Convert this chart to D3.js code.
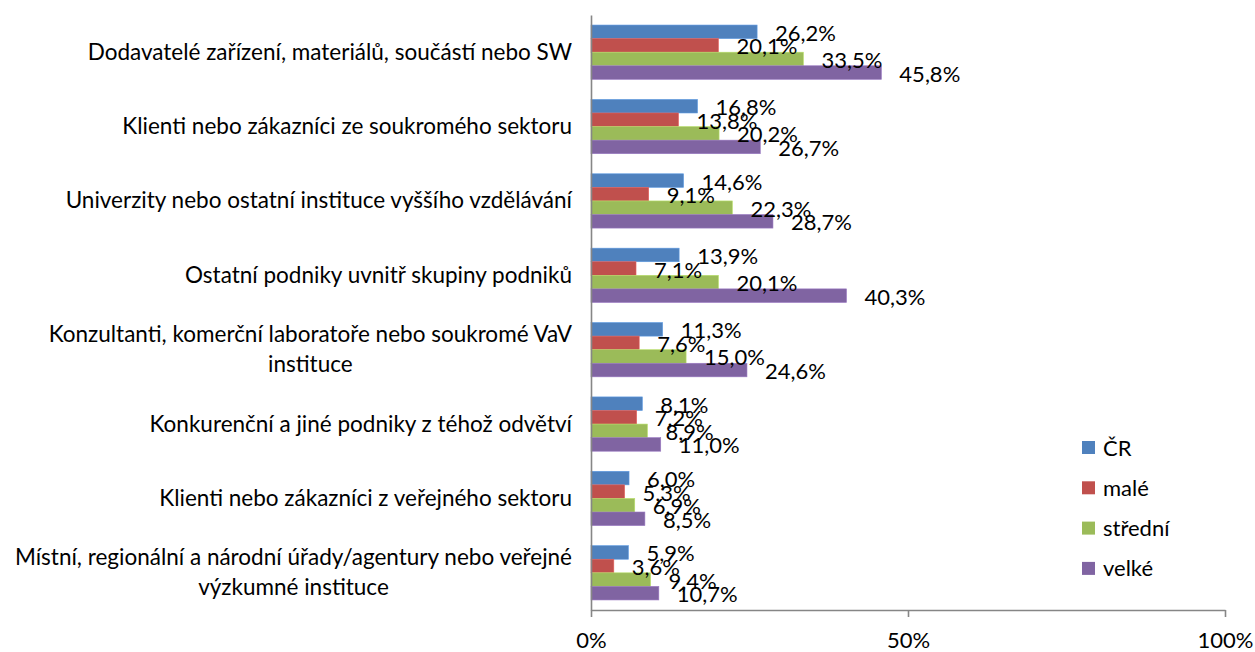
<!DOCTYPE html>
<html>
<head>
<meta charset="utf-8">
<script src="https://cdn.jsdelivr.net/npm/d3@7"></script>
<style>
  body { margin: 0; background: #fff; }
  svg { display: block; }
</style>
</head>
<body>
<svg id="chart"></svg>
<script>
const categories = [
  'Dodavatelé zařízení, materiálů, součástí nebo SW',
  'Klienti nebo zákazníci ze soukromého sektoru',
  'Univerzity nebo ostatní instituce vyššího vzdělávání',
  'Ostatní podniky uvnitř skupiny podniků',
  'Konzultanti, komerční laboratoře nebo soukromé VaV\ninstituce',
  'Konkurenční a jiné podniky z téhož odvětví',
  'Klienti nebo zákazníci z veřejného sektoru',
  'Místní, regionální a národní úřady/agentury nebo veřejné\nvýzkumné instituce'
];
const seriesNames = ['ČR', 'malé', 'střední', 'velké'];
const cr      = [26.2, 16.8, 14.6, 13.9, 11.3, 8.1, 6.0, 5.9];
const male    = [20.1, 13.8, 9.1, 7.1, 7.6, 7.2, 5.3, 3.6];
const stredni = [33.5, 20.2, 22.3, 20.1, 15.0, 8.9, 6.9, 9.4];
const velke   = [45.8, 26.7, 28.7, 40.3, 24.6, 11.0, 8.5, 10.7];
const xTicks = [0, 50, 100];

const seriesValues = [cr, male, stredni, velke];
const colors = ['#4F81BD', '#C0504D', '#9BBB59', '#8064A2'];

const width = 1255, height = 652;
const font = 'Lato, sans-serif';
const fontSize = 22;
const catFontSize = 22.5;
const margin = { top: 15, right: 30, bottom: 42, left: 591 };

const svg = d3.select('#chart')
  .attr('width', width)
  .attr('height', height)
  .style('font-family', font);

const x = d3.scaleLinear()
  .domain([0, 100])
  .range([margin.left, 1225]);

const y = d3.scaleBand()
  .domain(d3.range(categories.length))
  .range([margin.top, height - margin.bottom])
  .paddingInner(0.27)
  .paddingOuter(0.135);

const ySub = d3.scaleBand()
  .domain(d3.range(seriesNames.length))
  .range([0, y.bandwidth()]);

// bars
const groups = svg.append('g')
  .selectAll('g')
  .data(categories)
  .join('g')
  .attr('transform', (d, i) => `translate(0,${y(i)})`);

groups.selectAll('rect')
  .data((d, i) => seriesValues.map((s, j) => ({ s: j, v: s[i] })))
  .join('rect')
  .attr('x', x(0))
  .attr('y', d => ySub(d.s))
  .attr('width', d => x(d.v) - x(0))
  .attr('height', ySub.bandwidth())
  .attr('fill', d => colors[d.s])
  .attr('stroke', d => d3.color(colors[d.s]).brighter(0.5))
  .attr('stroke-width', 0.6);

// data labels
groups.selectAll('text.val')
  .data((d, i) => seriesValues.map((s, j) => ({ s: j, v: s[i] })))
  .join('text')
  .attr('class', 'val')
  .attr('x', d => x(d.v) + 18)
  .attr('y', d => ySub(d.s) + ySub.bandwidth() / 2 + 9)
  .style('font-size', fontSize + 'px')
  .style('fill', '#000')
  .text(d => d.v.toFixed(1).replace('.', ',') + '%');

// axes
const axisColor = '#868686';
const xAxis = svg.append('g')
  .attr('transform', `translate(0,${height - margin.bottom})`)
  .call(d3.axisBottom(x)
    .tickValues(xTicks)
    .tickSize(7)
    .tickSizeOuter(0)
    .tickFormat(d => d + '%'));
xAxis.select('.domain').attr('stroke', axisColor).attr('stroke-width', 1.6);
xAxis.selectAll('.tick line').attr('stroke', axisColor).attr('stroke-width', 1.6);
xAxis.selectAll('.tick text')
  .attr('y', 38)
  .attr('dy', 0)
  .style('font-family', font)
  .style('font-size', fontSize + 'px')
  .style('fill', '#000');

const yAxis = svg.append('g')
  .attr('transform', `translate(${x(0)},0)`)
  .call(d3.axisLeft(y).tickSize(0).tickSizeOuter(0).tickFormat(''));
yAxis.select('.domain').attr('stroke', axisColor).attr('stroke-width', 1.6);

// category labels, each block centred on its widest line and right aligned
const labelRight = 572;
const lineHeight = 30;
categories.forEach((c, i) => {
  const lines = c.split('\n');
  const cy = y(i) + y.bandwidth() / 2;
  const t = svg.append('text')
    .style('font-size', catFontSize + 'px')
    .style('fill', '#000')
    .attr('text-anchor', 'middle');
  lines.forEach((ln, k) => {
    t.append('tspan')
      .attr('y', cy + 7.5 + (k - (lines.length - 1) / 2) * lineHeight)
      .text(ln);
  });
  const w = d3.max(t.selectAll('tspan').nodes(), n => n.getComputedTextLength());
  t.selectAll('tspan').attr('x', labelRight - w / 2);
});

// legend
const legend = svg.append('g')
  .selectAll('g')
  .data(seriesNames)
  .join('g')
  .attr('transform', (d, i) => `translate(1082,${447.5 + i * 40.3})`);
legend.append('rect')
  .attr('x', 0)
  .attr('y', -6.5)
  .attr('width', 13)
  .attr('height', 13)
  .attr('fill', (d, i) => colors[i]);
legend.append('text')
  .attr('x', 21)
  .attr('y', 8)
  .style('font-size', fontSize + 'px')
  .style('fill', '#000')
  .text(d => d);
</script>
</body>
</html>
